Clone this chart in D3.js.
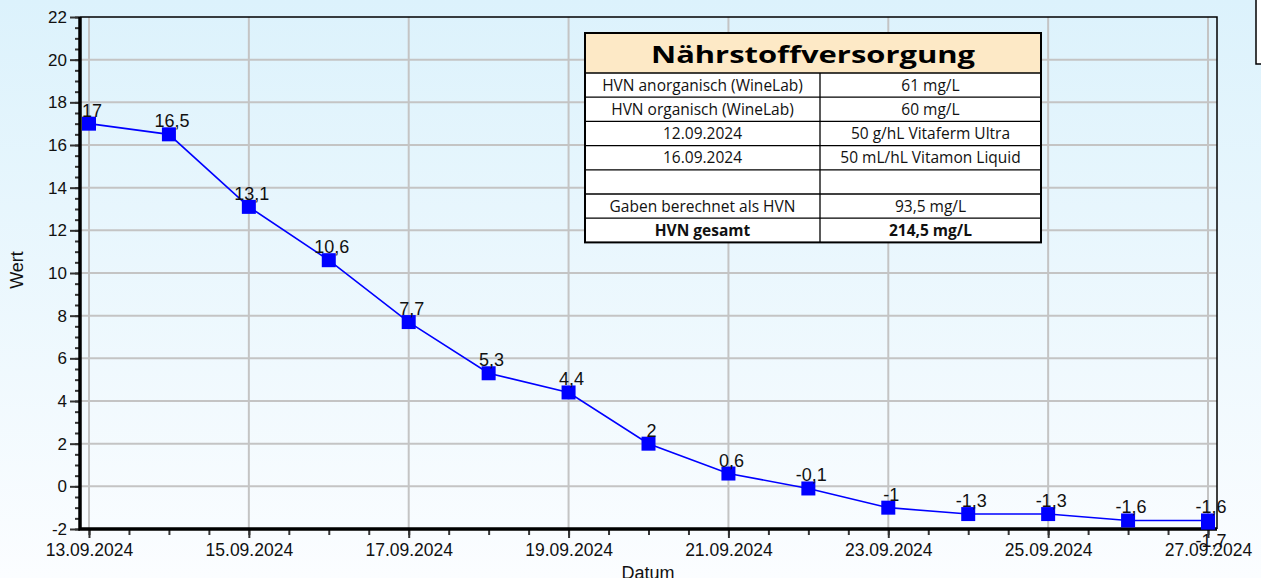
<!DOCTYPE html>
<html>
<head>
<meta charset="utf-8">
<script src="https://cdn.jsdelivr.net/npm/d3@7"></script>
<style>
  html, body { margin: 0; padding: 0; overflow: hidden; }
  body { width: 1261px; height: 578px; }
  svg { display: block; }
</style>
</head>
<body>
<div id="chart"></div>
<script>
// Messwerte (Datum, Wert)
var dates  = ["2024-09-13","2024-09-14","2024-09-15","2024-09-16","2024-09-17","2024-09-18","2024-09-19",
              "2024-09-20","2024-09-21","2024-09-22","2024-09-23","2024-09-24","2024-09-25","2024-09-26",
              "2024-09-27","2024-09-27"];
var values = [17, 16.5, 13.1, 10.6, 7.7, 5.3, 4.4, 2, 0.6, -0.1, -1, -1.3, -1.3, -1.6, -1.6, -1.7];

var yTicks = [-2, 0, 2, 4, 6, 8, 10, 12, 14, 16, 18, 20, 22];
var xTickDates = ["2024-09-13","2024-09-15","2024-09-17","2024-09-19","2024-09-21","2024-09-23","2024-09-25","2024-09-27"];

// Tabelle Nährstoffversorgung
var tableTitle = "Nährstoffversorgung";
var tableLeft  = ["HVN anorganisch (WineLab)", "HVN organisch (WineLab)", "12.09.2024", "16.09.2024", "", "Gaben berechnet als HVN", "HVN gesamt"];
var tableRight = ["61 mg/L", "60 mg/L", "50 g/hL Vitaferm Ultra", "50 mL/hL Vitamon Liquid", "", "93,5 mg/L", "214,5 mg/L"];

var yLabel = "Wert", xLabel = "Datum";

plot_line_chart("#chart", 1261, 578);

function plot_line_chart(htmlObjectId, width, height) {

    var parse = d3.timeParse("%Y-%m-%d");
    var fmtDate = d3.timeFormat("%d.%m.%Y");
    var fmtNum = function (v) { return String(v).replace(".", ","); };
    var chartFont = "'Liberation Sans', Arial, sans-serif";
    var tableFont = "'Open Sans', sans-serif";

    var data = dates.map(function (d, i) { return {date: parse(d), value: values[i]}; });

    // plot area
    var left = 80, right = 1217, top = 17, bottom = 529;

    var first = parse(dates[0]), last = parse(dates[dates.length - 1]);
    var xScale = d3.scaleTime()
                    .domain([d3.timeMinute.offset(first, -162), d3.timeMinute.offset(last, 162)])
                    .range([left, right]);

    var yScale = d3.scaleLinear()
                    .domain([-2, 22])
                    .range([bottom, top]);

    var canvas = d3.select(htmlObjectId)
                    .append("svg")
                    .attr("width", width)
                    .attr("height", height);

    // background gradient
    var grad = canvas.append("defs").append("linearGradient")
                    .attr("id", "bg").attr("x1", 0).attr("y1", 0).attr("x2", 0).attr("y2", 1);
    grad.append("stop").attr("offset", "0%").attr("stop-color", "#dcf2fc");
    grad.append("stop").attr("offset", "100%").attr("stop-color", "#fbfdff");

    canvas.append("rect")
        .attr("width", width).attr("height", height)
        .attr("fill", "url(#bg)");

    // legend box remnant (top right)
    canvas.append("rect")
        .attr("x", 1256).attr("y", -3).attr("width", 30).attr("height", 67)
        .attr("fill", "#ffffff").attr("stroke", "#000").attr("stroke-width", 1.5);

    // grid
    var grid = canvas.append("g").attr("class", "grid");
    grid.selectAll("line.h")
        .data(yTicks.filter(function (t) { return t > -2 && t < 22; }))
      .enter().append("line")
        .attr("class", "h")
        .attr("x1", left).attr("x2", right)
        .attr("y1", function (d) { return yScale(d); })
        .attr("y2", function (d) { return yScale(d); })
        .attr("stroke", "#c4c4c4").attr("stroke-width", 2);
    grid.selectAll("line.v")
        .data(xTickDates.map(parse))
      .enter().append("line")
        .attr("class", "v")
        .attr("y1", top).attr("y2", bottom)
        .attr("x1", function (d) { return xScale(d); })
        .attr("x2", function (d) { return xScale(d); })
        .attr("stroke", "#c4c4c4").attr("stroke-width", 2);

    // frame top / right
    canvas.append("path")
        .attr("d", "M" + left + "," + top + "H" + right + "V" + bottom)
        .attr("fill", "none").attr("stroke", "#000").attr("stroke-width", 1.5);

    // table
    var tx = 585, tw = 456, tcol = 820, ty = 33, headH = 40, rowH = 24.2;
    var tab = canvas.append("g").attr("class", "table");
    tab.append("rect")
        .attr("x", tx).attr("y", ty).attr("width", tw).attr("height", headH)
        .attr("fill", "#fde9c6");
    tab.append("rect")
        .attr("x", tx).attr("y", ty + headH).attr("width", tw).attr("height", rowH * tableLeft.length)
        .attr("fill", "#ffffff");
    tab.append("text")
        .attr("x", tx + tw / 2).attr("y", ty + 30)
        .attr("text-anchor", "middle")
        .attr("textLength", 324).attr("lengthAdjust", "spacingAndGlyphs")
        .style("font-family", tableFont)
        .style("font-weight", "bold").style("font-size", "24px")
        .attr("fill", "#000")
        .text(tableTitle);
    tableLeft.forEach(function (t, i) {
        var y0 = ty + headH + i * rowH;
        tab.append("line")
            .attr("x1", tx).attr("x2", tx + tw).attr("y1", y0).attr("y2", y0)
            .attr("stroke", "#000").attr("stroke-width", 1.3);
        [[t, tx + (tcol - tx) / 2], [tableRight[i], tcol + (tx + tw - tcol) / 2]].forEach(function (c) {
            tab.append("text")
                .attr("x", c[1]).attr("y", y0 + 17.5)
                .attr("text-anchor", "middle")
                .style("font-family", tableFont)
                .style("font-size", "15.5px")
                .style("font-weight", i === tableLeft.length - 1 ? "bold" : "normal")
                .attr("fill", "#111")
                .text(c[0]);
        });
    });
    tab.append("line")
        .attr("x1", tcol).attr("x2", tcol).attr("y1", ty + headH).attr("y2", ty + headH + rowH * tableLeft.length)
        .attr("stroke", "#000").attr("stroke-width", 1.3);
    tab.append("rect")
        .attr("x", tx).attr("y", ty).attr("width", tw).attr("height", headH + rowH * tableLeft.length)
        .attr("fill", "none").attr("stroke", "#000").attr("stroke-width", 2);

    // axes
    var yMinor = d3.range(-2, 22.01, 0.5);
    var yaxisMinor = d3.axisLeft(yScale).tickValues(yMinor).tickSize(5).tickFormat("");
    var yaxis = d3.axisLeft(yScale).tickValues(yTicks).tickSize(10).tickPadding(3)
                    .tickFormat(function (d) { return String(d); });

    var xMinor = d3.timeHour.every(12).range(first, d3.timeHour.offset(last, 1));
    var xaxisMinor = d3.axisBottom(xScale).tickValues(xMinor).tickSize(6).tickFormat("");
    var xaxis = d3.axisBottom(xScale).tickValues(xTickDates.map(parse)).tickSize(9).tickPadding(6)
                    .tickFormat(fmtDate);

    [yaxisMinor, yaxis].forEach(function (ax) {
        var g = canvas.append("g")
            .attr("class", "axis y")
            .attr("transform", "translate(" + left + ",0)")
            .call(ax);
        g.select(".domain").remove();
        g.selectAll("line").attr("stroke", "#333").attr("stroke-width", 2);
        g.selectAll("text")
            .style("font-family", chartFont)
            .style("font-size", "17px").attr("fill", "#111");
    });

    [xaxisMinor, xaxis].forEach(function (ax) {
        var g = canvas.append("g")
            .attr("class", "axis x")
            .attr("transform", "translate(0," + bottom + ")")
            .call(ax);
        g.select(".domain").remove();
        g.selectAll("line").attr("stroke", "#333").attr("stroke-width", 2);
        g.selectAll("text")
            .style("font-family", chartFont)
            .style("font-size", "17.5px").attr("fill", "#111");
    });

    // thick axis lines
    canvas.append("path")
        .attr("d", "M" + left + "," + top + "V" + bottom + "H" + right)
        .attr("fill", "none").attr("stroke", "#000").attr("stroke-width", 3.5);

    // line + markers
    var line = d3.line()
                .x(function (d) { return xScale(d.date); })
                .y(function (d) { return yScale(d.value); });

    canvas.append("path")
        .datum(data)
        .attr("d", line)
        .attr("fill", "none").attr("stroke", "#0000ff").attr("stroke-width", 1.6);

    canvas.selectAll("rect.dot")
        .data(data)
      .enter().append("rect")
        .attr("class", "dot")
        .attr("x", function (d) { return xScale(d.date) - 7; })
        .attr("y", function (d) { return yScale(d.value) - 7; })
        .attr("width", 14).attr("height", 14)
        .attr("fill", "#0000ff");

    // value labels: above; if same date as previous point, below
    canvas.selectAll("text.lbl")
        .data(data)
      .enter().append("text")
        .attr("class", "lbl")
        .attr("x", function (d) { return xScale(d.date) + 3; })
        .attr("y", function (d, i) {
            var below = i > 0 && +data[i - 1].date === +d.date;
            return yScale(d.value) + (below ? 24 : -7);
        })
        .attr("text-anchor", "middle")
        .style("font-family", chartFont)
        .style("font-size", "18px")
        .attr("fill", "#111")
        .text(function (d) { return fmtNum(d.value); });

    // axis titles
    canvas.append("text")
        .attr("transform", "translate(23,270) rotate(-90)")
        .attr("text-anchor", "middle")
        .style("font-family", chartFont)
        .style("font-size", "18px").attr("fill", "#111")
        .text(yLabel);

    canvas.append("text")
        .attr("x", 648).attr("y", 579)
        .attr("text-anchor", "middle")
        .style("font-family", chartFont)
        .style("font-size", "18px").attr("fill", "#111")
        .text(xLabel);
}
</script>
</body>
</html>
